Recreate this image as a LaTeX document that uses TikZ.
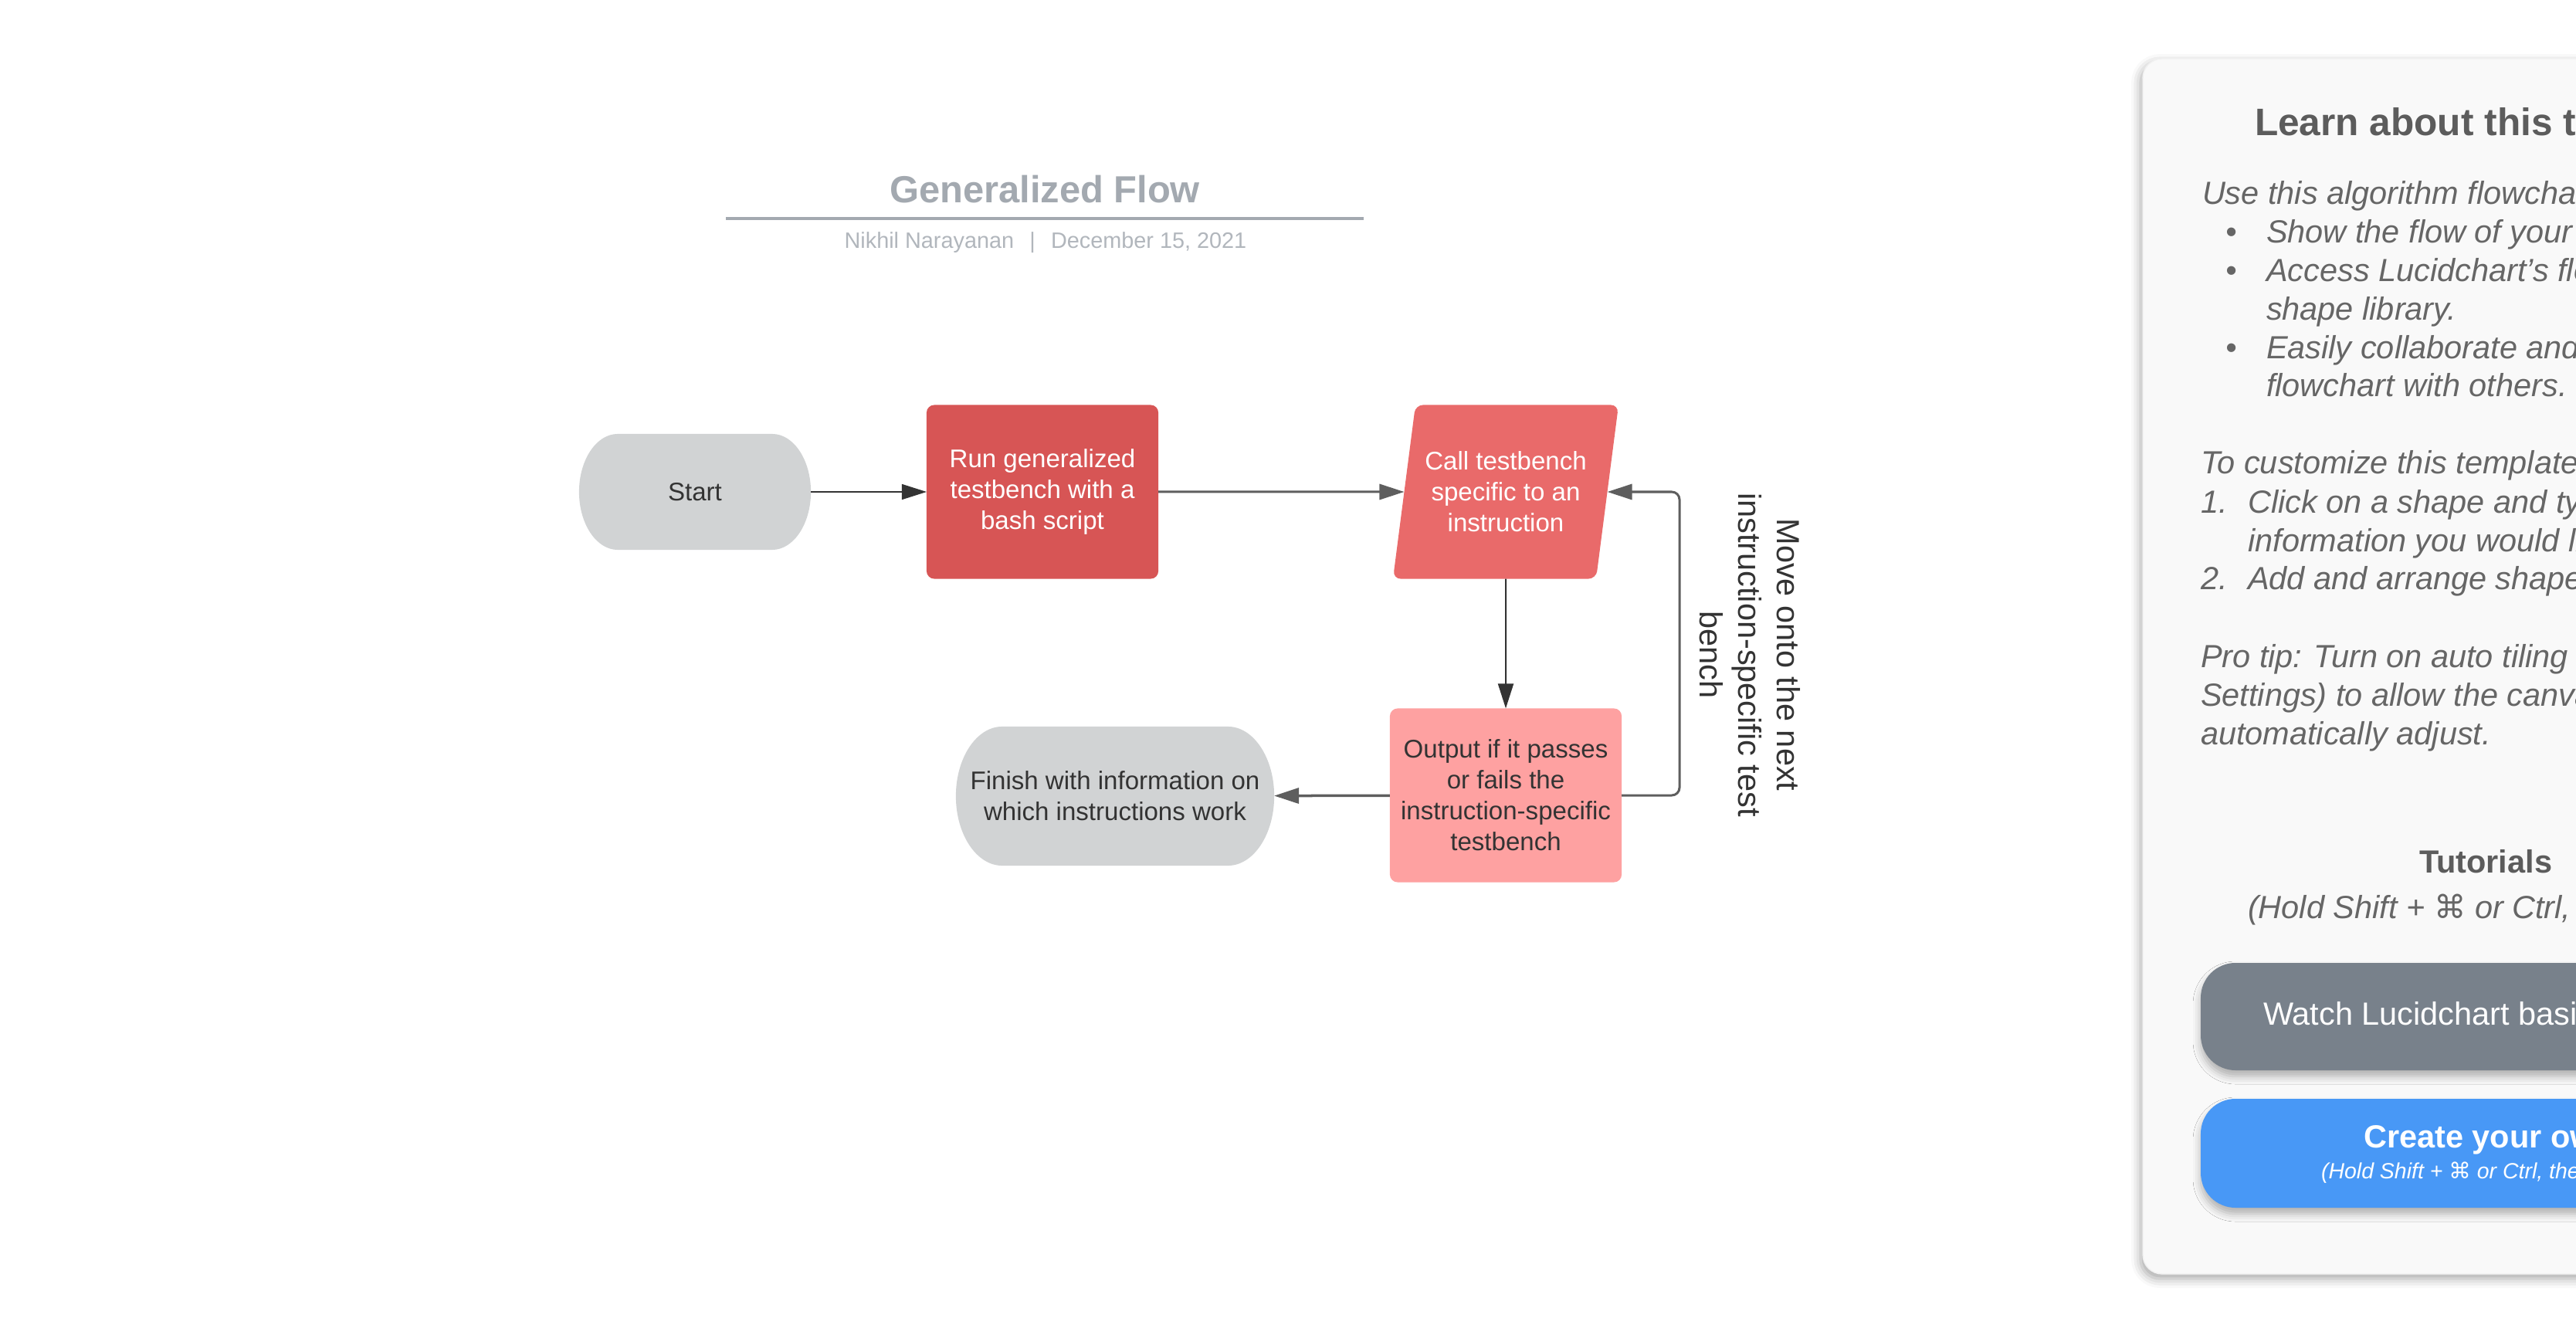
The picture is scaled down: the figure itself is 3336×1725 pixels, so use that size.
\documentclass[tikz,border=0pt]{standalone}
\usepackage{fontspec}
\setmainfont{Liberation Sans}
\newfontfamily\symbolfont{DejaVu Sans}
\usetikzlibrary{shapes.geometric,arrows.meta,shadows.blur}

\definecolor{termgrey}{RGB}{209,211,212}
\definecolor{runred}{RGB}{215,85,85}
\definecolor{callred}{RGB}{233,106,106}
\definecolor{outpink}{RGB}{254,161,161}
\definecolor{linegrey}{RGB}{94,94,94}
\definecolor{inkdark}{RGB}{51,51,51}
\definecolor{titlegrey}{RGB}{163,169,176}
\definecolor{panelbg}{RGB}{249,249,249}
\definecolor{panelink}{RGB}{102,102,102}
\definecolor{btngrey}{RGB}{120,129,139}
\definecolor{btnblue}{RGB}{72,152,246}

\newcommand{\cmdkey}{{\symbolfont ⌘}}

\begin{document}
\begin{tikzpicture}[x=0.01cm, y=-0.01cm,
      every node/.style = {inner sep=0pt, outer sep=0pt, align=center},
      body/.style = {font=\fontsize{9.4pt}{11.4pt}\selectfont},
      term/.style = {body, rectangle, fill=white, text=inkdark, minimum height=#1,
        path picture={\fill[termgrey]
          ([xshift=#1/3]path picture bounding box.north west)
          -- ([xshift=-#1/3]path picture bounding box.north east)
          arc[start angle=90, end angle=-90, x radius=#1/3, y radius=#1/2]
          -- ([xshift=#1/3]path picture bounding box.south west)
          arc[start angle=270, end angle=90, x radius=#1/3, y radius=#1/2]
          -- cycle;}},
      proc/.style = {body, rectangle, rounded corners=0.1cm,
        minimum width=3cm, minimum height=2.25cm},
      io/.style = {body, trapezium, trapezium left angle=76,
        trapezium right angle=104, trapezium stretches=true,
        minimum width=2.93cm, minimum height=2.25cm, rounded corners=0.1cm},
      flow/.style = {draw=linegrey, line width=0.03cm,
        -{Triangle[length=0.32cm,width=0.2cm]}},
      thinflow/.style = {flow, draw=inkdark, line width=0.013cm},
      note/.style = {text=panelink, anchor=base west, align=left,
        font=\fontsize{11.8pt}{14.2pt}\selectfont\itshape},
      button/.style = {draw=none, rounded corners=0.45cm,
        blur shadow={shadow xshift=0cm, shadow yshift=-0.08cm,
          shadow blur radius=0.1cm, shadow opacity=30}}]
  \useasboundingbox (0,0) rectangle (3336,1725);
  \clip (0,0) rectangle (3336,1725);

  \node[font=\fontsize{13.9pt}{16pt}\selectfont\bfseries, text=titlegrey,
    anchor=base] (title) at (1353,263) {Generalized Flow};
  \draw[titlegrey, line width=0.035cm] (940,283) -- (1766,283);
  \node[font=\fontsize{8.2pt}{10pt}\selectfont, text=titlegrey!85,
    anchor=base] (byline) at (1354,322)
    {Nikhil Narayanan\hspace{0.7em}|\hspace{0.7em}December 15, 2021};

  \node[term=1.5cm, minimum width=3cm] (start) at (900,637) {Start};
  \node[proc, fill=runred, text=white] (run) at (1350,637)
    {Run generalized\\testbench with a\\bash script};
  \node[io, fill=callred, text=white] (call) at (1950,637)
    {Call testbench\\specific to an\\instruction};
  \node[proc, fill=outpink, text=inkdark] (out) at (1950,1030)
    {Output if it passes\\or fails the\\instruction-specific\\testbench};
  \node[term=1.8cm, minimum width=4.12cm] (finish) at (1444,1031)
    {Finish with information on\\which instructions work};
  \coordinate (loopx) at (2175,0);

  \draw[thinflow] (start) -- (run);
  \draw[flow] (run) -- (call);
  \draw[thinflow, line width=0.02cm] (call) -- (out);
  \draw[flow, line width=0.035cm] (out) -- (finish);
  \draw[flow, rounded corners=0.1cm] (out.east) -| (loopx |- call.east) -- (call.east);

  \node[rotate=-90, text=inkdark, font=\fontsize{11.8pt}{14.2pt}\selectfont]
    (movenote) at (2266,848) {Move onto the next\\instruction-specific test\\bench};

  \draw[draw=black!6, fill=panelbg, rounded corners=0.25cm,
    blur shadow={shadow xshift=-0.03cm, shadow yshift=-0.06cm,
      shadow blur radius=0.12cm, shadow opacity=35}] (2775,76) rectangle (3700,1650);
  \node[anchor=base west, text=panelink!90!black,
    font=\fontsize{14.1pt}{17pt}\selectfont\bfseries] (learn) at (2920,176)
    {Learn about this template};
  \node[note] (intro) at (2852,514) {Use this algorithm flowchart template to:\\
    \makebox[23.6pt][l]{\hspace{8.8pt}\textbullet}Show the flow of your algorithm.\\
    \makebox[23.6pt][l]{\hspace{8.8pt}\textbullet}Access Lucidchart's flowchart\\
    \hspace*{23.6pt}shape library.\\
    \makebox[23.6pt][l]{\hspace{8.8pt}\textbullet}Easily collaborate and share your\\
    \hspace*{23.6pt}flowchart with others.};
  \node[note] (custom) at (2850,614) {To customize this template:};
  \node[note] (steps) at (2850,764) {\makebox[17.4pt][l]{1.}Click on a shape and type to add the\\
    \hspace*{17.4pt}information you would like.\\
    \makebox[17.4pt][l]{2.}Add and arrange shapes as needed.};
  \node[note] (protip) at (2850,964) {Pro tip: Turn on auto tiling (Page\\
    Settings) to allow the canvas to\\automatically adjust.};

  \node[anchor=base west, text=panelink!90!black,
    font=\fontsize{11.8pt}{14pt}\selectfont\bfseries] (tutorials) at (3133,1130) {Tutorials};
  \node[note] (holdkeys) at (2911,1189) {(Hold Shift + \cmdkey{} or Ctrl, then click)};

  \fill[button, fill=btngrey] (2850,1247) rectangle (3700,1386);
  \node[anchor=base west, text=white, font=\fontsize{11.8pt}{14pt}\selectfont]
    (watch) at (2931,1327) {Watch Lucidchart basics};
  \fill[button, fill=btnblue] (2850,1423) rectangle (3700,1564);
  \node[anchor=base west, text=white, font=\fontsize{11.8pt}{14pt}\selectfont\bfseries]
    (create) at (3061,1486) {Create your own};
  \node[anchor=base west, text=white, font=\fontsize{8.1pt}{10pt}\selectfont\itshape]
    (createkeys) at (3006,1526) {(Hold Shift + \cmdkey{} or Ctrl, then click)};
\end{tikzpicture}
\end{document}
